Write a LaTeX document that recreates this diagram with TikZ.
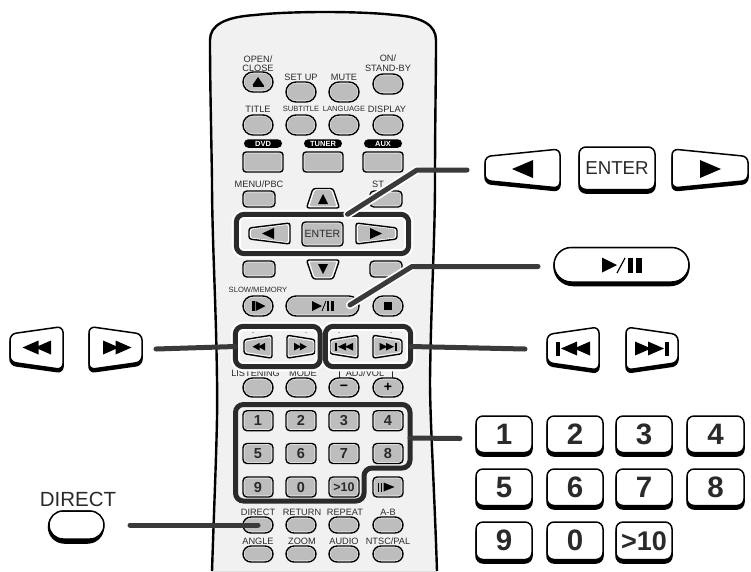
\documentclass[tikz,border=0pt]{standalone}
\usepackage{fontspec}
\setmainfont{Liberation Sans}
\usetikzlibrary{shapes.misc,calc}
\definecolor{btn}{HTML}{BDBDBD}
\definecolor{ink}{HTML}{2A2A2A}
\definecolor{conn}{HTML}{3A3A3A}
\definecolor{bodyc}{HTML}{F1F1F1}
\definecolor{edgec}{HTML}{A0A0A0}
\pgfdeclarehorizontalshading{remoteshade}{100bp}{color(0bp)=(edgec); color(5bp)=(bodyc); color(95bp)=(bodyc); color(100bp)=(edgec)}
\tikzset{
 lab/.style={font=\fontsize{9.2}{9.2}\selectfont,text=ink,inner sep=0pt},
 labn/.style={font=\fontsize{7.6}{7.6}\selectfont,text=ink,inner sep=0pt},
 tag/.style={rounded rectangle,fill=black,text=white,font=\bfseries\fontsize{7.5}{7.5}\selectfont,inner sep=0pt,minimum width=38pt,minimum height=8.5pt},
 keytxt/.style={font=\bfseries\fontsize{14.5}{14.5}\selectfont,text=ink,inner sep=0pt},
 bigtxt/.style={font=\bfseries\fontsize{29.5}{29.5}\selectfont,text=ink,inner sep=0pt},
 frameln/.style={draw=ink,line width=5pt,rounded corners=8pt},
 halo/.style={draw=white,line width=9.5pt,rounded corners=8pt},
 connline/.style={draw=conn,line width=5pt,line cap=round,line join=round},
 connhalo/.style={draw=white,line width=8.5pt,line cap=round,line join=round},
 bigline/.style={draw=black,line width=1.5pt,fill=white,rounded corners=6pt},
 bigshadow/.style={draw=black,line width=1.5pt,fill=black,rounded corners=6pt},
}
\newcommand\pill[6]{%
 \node[rounded rectangle,draw=black,line width=1.4pt,fill=white,minimum width=#4pt,minimum height=#5pt,inner sep=0pt] (#1) at (#2,#3) {};
 \node[rounded rectangle,fill=btn,minimum width=#4pt-2.6pt,minimum height=#5pt-2.6pt,inner sep=0pt] (#1c) at (#2,#3) {#6};}
\newcommand\rbtn[7]{%
 \node[rectangle,rounded corners=#6pt,draw=black,line width=1.4pt,fill=white,minimum width=#4pt,minimum height=#5pt,inner sep=0pt] (#1) at (#2,#3) {};
 \node[rectangle,rounded corners=#6pt-1pt,fill=btn,minimum width=#4pt-2.6pt,minimum height=#5pt-2.6pt,inner sep=0pt] (#1c) at (#2,#3) {#7};}
\newcommand\trap[6]{%
 \coordinate (#1) at ({(#2+#3)/2},#4);
 \filldraw[draw=black,line width=1.4pt,fill=white,rounded corners=2.5pt] (#2,{#4-#6})--(#3,{#4-#5})--(#3,{#4+#5})--(#2,{#4+#6})--cycle;
 \fill[btn,rounded corners=1.5pt] ({#2+(#3-#2)*.05},{#4-#6*.75})--({#3-(#3-#2)*.05},{#4-#5*.82})--({#3-(#3-#2)*.05},{#4+#5*.82})--({#2+(#3-#2)*.05},{#4+#6*.75})--cycle;}
\newcommand\vtrap[6]{%
 \coordinate (#1) at (#2,{(#3+#4)/2});
 \filldraw[draw=black,line width=1.4pt,fill=white,rounded corners=2.5pt] ({#2-#6},#3)--({#2+#6},#3)--({#2+#5},#4)--({#2-#5},#4)--cycle;
 \fill[btn,rounded corners=1.5pt] ({#2-#6*.82},{#3+(#4-#3)*.08})--({#2+#6*.82},{#3+(#4-#3)*.08})--({#2+#5*.82},{#4-(#4-#3)*.08})--({#2-#5*.82},{#4-(#4-#3)*.08})--cycle;}
\newcommand\bigtrap[6]{%
 \coordinate (#1) at ({(#2+#3)/2},#4);
 \filldraw[bigshadow] (#2,{#4-#6+3})--(#3,{#4-#5+3})--(#3,{#4+#5+3})--(#2,{#4+#6+3})--cycle;
 \filldraw[bigline] (#2,{#4-#6})--(#3,{#4-#5})--(#3,{#4+#5})--(#2,{#4+#6})--cycle;}
\newcommand\bigkey[7]{%
 \filldraw[bigshadow,rounded corners=7pt] (#2,{#4+3.5}) rectangle (#3,#5);
 \filldraw[bigline,rounded corners=7pt] (#2,#4) rectangle (#3,{#5-3.5});
 \node[#7] (#1) at ({(#2+#3)/2},{(#4+#5-3.5)/2}) {#6};}
\newcommand\bigpill[5]{%
 \node[rounded rectangle,draw=black,fill=black,line width=1.5pt,minimum width=#4pt,minimum height=#5pt,inner sep=0pt] (#1s) at (#2,{#3}) {};
 \node[rounded rectangle,draw=black,fill=white,line width=1.5pt,minimum width=#4pt,minimum height=#5pt-3.5pt,inner sep=0pt] (#1) at (#2,{#3-1.75}) {};}
\newcommand\gR[4]{\fill[black] ({#1-#3},{#2-#4})--({#1+#3},#2)--({#1-#3},{#2+#4})--cycle;}
\newcommand\gL[4]{\fill[black] ({#1+#3},{#2-#4})--({#1-#3},#2)--({#1+#3},{#2+#4})--cycle;}
\newcommand\gU[4]{\fill[black] ({#1-#3},{#2+#4})--(#1,{#2-#4})--({#1+#3},{#2+#4})--cycle;}
\newcommand\gD[4]{\fill[black] ({#1-#3},{#2-#4})--(#1,{#2+#4})--({#1+#3},{#2-#4})--cycle;}
\newcommand\gB[4]{\fill[black] ({#1-#3},{#2-#4}) rectangle ({#1+#3},{#2+#4});}
\newcommand\lab[5][lab]{\node[#1] (#2) at (#3,#4) {#5};}
\begin{document}
\begin{tikzpicture}[x=1pt,y=-1pt]
\useasboundingbox (0,0) rectangle (751,571);
\fill[white] (0,0) rectangle (751,571);
\fill[shading=remoteshade] (212,571) .. controls (215,480) and (218,420) .. (217,380) .. controls (216,300) and (212,240) .. (212,180) .. controls (211,120) and (210,80) .. (210,40) .. controls (210,25) and (225,17) .. (255,15) .. controls (290,11) and (360,11) .. (395,15) .. controls (422,17) and (436,25) .. (436,40) .. controls (436,80) and (435,120) .. (435,180) .. controls (435,240) and (431,300) .. (430,380) .. controls (430,420) and (434,480) .. (437,571) -- cycle;
\draw[black,line width=2.4pt] (212,571) .. controls (215,480) and (218,420) .. (217,380) .. controls (216,300) and (212,240) .. (212,180) .. controls (211,120) and (210,80) .. (210,40) .. controls (210,25) and (225,17) .. (255,15) .. controls (290,11) and (360,11) .. (395,15) .. controls (422,17) and (436,25) .. (436,40) .. controls (436,80) and (435,120) .. (435,180) .. controls (435,240) and (431,300) .. (430,380) .. controls (430,420) and (434,480) .. (437,571);
\lab{l1}{258}{59}{OPEN/}\lab{l2}{258}{68}{CLOSE}
\lab{l3}{301}{77}{SET UP}\lab{l4}{344}{77}{MUTE}
\lab{l5}{388}{58}{ON/}\lab{l6}{388}{68}{STAND-BY}
\lab{l7}{258}{109}{TITLE}\lab[labn]{l8}{301}{109}{SUBTITLE}\lab[labn]{l9}{344}{109}{LANGUAGE}\lab{l10}{387}{109}{DISPLAY}
\pill{b1}{258}{82}{30}{20}{}\gU{258}{81}{5.5}{4}\gB{258}{86}{5.5}{.8}
\pill{b2}{301}{92}{30}{20}{}\pill{b3}{344}{92}{30}{20}{}\pill{b4}{388}{84}{30}{20}{}
\pill{b5}{258}{125}{30}{20}{}\pill{b6}{301}{125}{30}{20}{}\pill{b7}{344}{125}{30}{20}{}\pill{b8}{388}{125}{30}{20}{}
\node[tag] (t1) at (263,143.5) {DVD};\node[tag] (t2) at (323,143.5) {TUNER};\node[tag] (t3) at (383,143.5) {AUX};
\rbtn{s1}{263}{162}{40}{20}{3}{}\rbtn{s2}{323}{162}{40}{20}{3}{}\rbtn{s3}{383}{162}{40}{20}{3}{}
\lab{l11}{259}{184}{MENU/PBC}\node[lab,anchor=west] (l12) at (372,184) {ST};
\rbtn{m1}{259}{199}{32}{16}{4}{}\rbtn{m2}{386}{199}{32}{16}{4}{}
\rbtn{m3}{259}{269}{32}{16}{4}{}\rbtn{m4}{386}{269}{32}{16}{4}{}
\vtrap{up}{323}{188.5}{208}{16.5}{10}\gU{323}{199}{5}{5}
\vtrap{dn}{323}{279}{260}{16.5}{10}\gD{323}{269}{5}{5}
\lab[labn]{l13}{258}{290}{SLOW/MEMORY}
\pill{p1}{258}{306}{30}{20}{}\gB{253.5}{306}{1.2}{5}\gR{260.5}{306}{5}{5}
\pill{p2}{322.5}{306}{73}{20}{}\gR{317}{306}{5}{5}\draw[black,line width=.8pt] (322,311)--(326,301);\gB{328}{306}{1.3}{5}\gB{332.5}{306}{1.3}{5}
\pill{p3}{388}{306}{30}{20}{}\gB{388}{306}{4}{4}
\trap{rw}{244}{272}{346.7}{11.5}{7}\gL{256}{346.7}{3.5}{3.8}\gL{261.5}{346.7}{3.5}{3.8}
\trap{ff}{315}{287}{346.7}{11.5}{7}\gR{297.7}{346.7}{3.5}{3.8}\gR{303.3}{346.7}{3.5}{3.8}
\trap{pv}{330}{358}{346.7}{11.5}{7}\gB{336}{346.7}{1}{4}\gL{342}{346.7}{4}{3.8}\gL{349}{346.7}{4}{3.8}
\trap{nx}{402}{373}{346.7}{11.5}{7}\gR{383.5}{346.7}{4}{3.8}\gR{390}{346.7}{4}{3.8}\gB{395.5}{346.7}{1}{4}
\foreach \tx in {253,306,339,391}{\fill[ink] (\tx,332.5) circle (.5pt);}
\lab{l14}{274}{373.5}{LISTENING\quad MODE}\lab{l15}{365}{373.5}{ADJ/VOL}
\draw[ink,line width=.7pt] (339,370) -- (339,378) (392,370) -- (392,378);
\pill{a1}{258}{387.5}{30}{19}{}\pill{a2}{301}{387.5}{30}{19}{}
\pill{a3}{344}{387.5}{30}{19}{\fontsize{14}{14}\bfseries\selectfont −}\pill{a4}{388}{387.5}{30}{19}{\fontsize{14}{14}\bfseries\selectfont +}
\foreach \nm/\xx/\yy/\tx in {1/258/420.7/1,2/301/420.7/2,3/344/420.7/3,4/388/420.7/4,5/258/453.5/5,6/301/453.5/6,7/344/453.5/7,8/388/453.5/8,9/258/487/9,0/301/487/0}{
 \rbtn{n\nm}{\xx}{\yy}{30}{20}{4}{}\node[keytxt] (nt\nm) at (\xx,\yy) {\tx};}
\rbtn{n10}{344}{487}{30}{20}{4}{}\node[keytxt,font=\bfseries\fontsize{12.5}{12.5}\selectfont] (nt10) at (344,487) {>10};
\rbtn{n11}{388}{487}{30}{20}{4}{}\gB{378.5}{487}{.9}{4.5}\gB{381.5}{487}{.9}{4.5}\gR{389}{487}{5.5}{4.5}
\lab{l16}{258}{512}{DIRECT}\lab{l17}{302}{512}{RETURN}\lab{l18}{345}{512}{REPEAT}\lab{l19}{388}{512}{A-B}
\pill{d1}{258}{525}{30}{16}{}\pill{d2}{301}{525}{30}{16}{}\pill{d3}{344}{525}{30}{16}{}\pill{d4}{388}{525}{30}{16}{}
\lab{l20}{258}{541}{ANGLE}\lab{l21}{302}{541}{ZOOM}\lab{l22}{344}{541}{AUDIO}\lab{l23}{388}{541}{NTSC/PAL}
\pill{e1}{258}{554}{30}{16}{}\pill{e2}{301}{554}{30}{16}{}\pill{e3}{344}{554}{30}{16}{}\pill{e4}{388}{554}{30}{16}{}
\node[rectangle,minimum width=172pt,minimum height=39pt,inner sep=0pt] (fe) at (322.5,234) {};
\node[rectangle,minimum width=84.5pt,minimum height=40pt,inner sep=0pt] (frw) at (277.75,346.5) {};
\node[rectangle,minimum width=85pt,minimum height=40pt,inner sep=0pt] (fpv) at (368,346.5) {};
\coordinate (fn) at (410,438);
\draw[halo] (fe.south west) rectangle (fe.north east);
\draw[halo] (frw.south west) rectangle (frw.north east);
\draw[halo] (fpv.south west) rectangle (fpv.north east);
\trap{el}{249}{290}{233.5}{10.5}{5.5}\gL{268}{233.5}{6}{5.5}
\rbtn{en}{322.5}{234}{41}{24}{3.5}{\fontsize{10.5}{10.5}\selectfont\textcolor{ink}{ENTER}}
\trap{er}{397}{356}{233.5}{10.5}{5.5}\gR{376}{233.5}{6}{5.5}
\draw[frameln] (fe.south west) rectangle (fe.north east);
\draw[frameln] (frw.south west) rectangle (frw.north east);
\draw[frameln] (fpv.south west) rectangle (fpv.north east);
\draw[frameln] (235.5,404.5) -- (410,404.5) -- (410,468) -- (364,468) -- (364,501) -- (235.5,501) -- cycle;
\coordinate (c1a) at (417,170);\coordinate (c1b) at (467,170);
\coordinate (c2a) at (412,266.5);\coordinate (c2b) at (538,266.5);
\coordinate (c2s) at (350,305);
\coordinate (c3) at (156,349);\coordinate (c4) at (525,349);
\coordinate (c5) at (460,438.5);\coordinate (c6) at (130,525);
\draw[connhalo] (c2s) -- (c2a);
\draw[connhalo] ($(fe.north)+(25,0)$) -- (c1a);
\draw[connline] ($(fe.north)+(25,0)$) -- (c1a) -- (c1b);
\draw[connline] (c2s) -- (c2a) -- (c2b);
\draw[connline] (c3) -- (frw.west);
\draw[connline] (fpv.east) -- (c4);
\draw[connline] (fn) -- (c5);
\draw[connline] (c6) -- (d1.center);
\bigtrap{bl}{485}{560}{168.5}{19.5}{12}\gL{522.5}{169}{10.5}{9}
\bigkey{ben}{579}{655}{147}{193}{ENTER}{font=\fontsize{18.7}{18.7}\selectfont,text=ink,inner sep=0pt}
\bigtrap{br}{748}{672}{168.5}{19.5}{12}\gR{710.5}{169}{10.5}{9}
\bigpill{bp}{621.5}{266.5}{135}{38}
\gR{609.5}{265}{7.5}{7.5}\draw[black,line width=1.2pt] (617,273)--(625,258);\gB{630.5}{265}{2.6}{7.5}\gB{639}{265}{2.6}{7.5}
\bigtrap{bpv}{547}{599}{348.5}{21.5}{14}\gB{558}{348.5}{2}{7}\gL{569}{348.5}{8}{7}\gL{582}{348.5}{8}{7}
\bigtrap{bnx}{678}{626}{348.5}{21.5}{14}\gR{643}{348.5}{8}{7}\gR{656}{348.5}{8}{7}\gB{667}{348.5}{2}{7}
\bigtrap{brw}{10}{63}{348}{21.5}{14}\gL{30.5}{347.5}{8}{7}\gL{43}{347.5}{8}{7}
\bigtrap{bff}{142}{89}{348}{21.5}{14}\gR{111}{347.5}{8}{7}\gR{123.5}{347.5}{8}{7}
\lab[font=\fontsize{20.5}{20.5}\selectfont,text=ink,inner sep=0pt]{ld}{78}{499}{DIRECT}
\node[rounded rectangle,draw=black,fill=black,line width=1.5pt,minimum width=55pt,minimum height=32pt,inner sep=0pt] (bds) at (76,527) {};
\node[rounded rectangle,draw=black,fill=white,line width=1.5pt,minimum width=55pt,minimum height=28pt,inner sep=0pt] (bd) at (76.5,525) {};
\foreach \nm/\xa/\xb/\ya/\yb in {1/476/532/416/456,2/547/603/416/456,3/616/672/416/456,4/687/744/416/456,5/476/532/469/509,6/547/603/469/509,7/616/672/469/509,8/687/744/469/509,9/476/532/522/563,0/547/603/522/563}{
 \bigkey{k\nm}{\xa}{\xb}{\ya}{\yb}{\nm}{bigtxt}}
\bigkey{k10}{616}{672}{522}{563}{>10}{bigtxt,font=\bfseries\fontsize{27}{27}\selectfont}
\end{tikzpicture}
\end{document}
